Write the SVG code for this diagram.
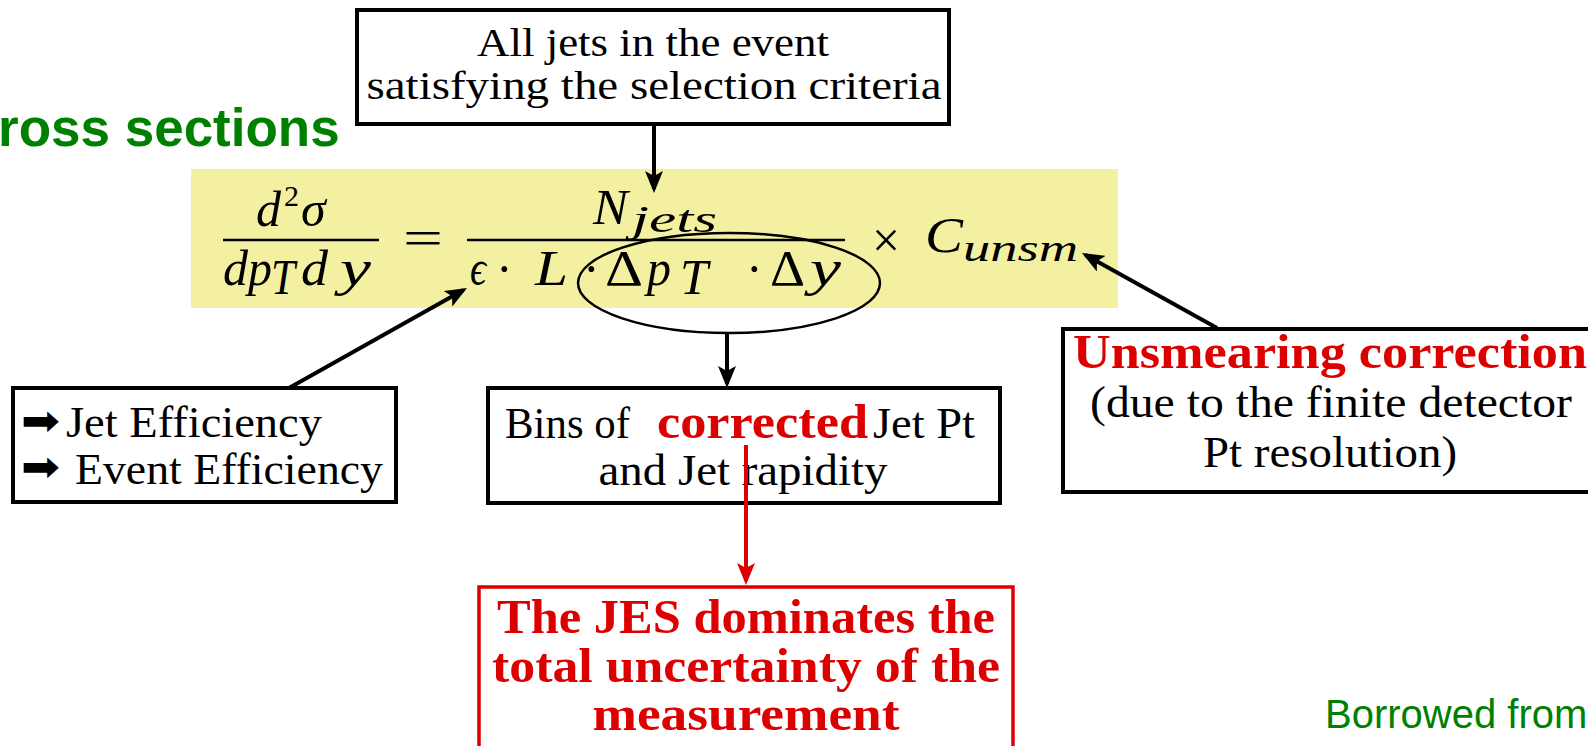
<svg xmlns="http://www.w3.org/2000/svg" width="1588" height="746" viewBox="0 0 1588 746">
<style>
.serif{font-family:"Liberation Serif","DejaVu Serif",serif;fill:#000}
.box{fill:#fff;stroke:#000;stroke-width:4}
.rbox{fill:#fff;stroke:#dd0000;stroke-width:3.5}
.red{fill:#dd0000;font-weight:bold}
.math{font-family:"Liberation Serif","DejaVu Serif",serif;font-style:italic;font-size:50px;fill:#000}
.up{font-style:normal}
.sub{font-size:38px}
.bar{stroke:#000;stroke-width:2.5}
.conn{stroke:#000;stroke-width:4;fill:none}
.rconn{stroke:#dd0000;stroke-width:4;fill:none}
.green{font-family:"Liberation Sans",Arial,sans-serif;fill:#008000}
</style>
<defs>
<marker id="ah" viewBox="0 0 22 18" refX="18" refY="9" markerWidth="22" markerHeight="18" markerUnits="userSpaceOnUse" orient="auto"><path d="M0,0 L22,9 L0,18 L5,9 z" fill="#000"/></marker>
<marker id="ahr" viewBox="0 0 22 18" refX="18" refY="9" markerWidth="22" markerHeight="18" markerUnits="userSpaceOnUse" orient="auto"><path d="M0,0 L22,9 L0,18 L5,9 z" fill="#dd0000"/></marker>
</defs>
<rect width="1588" height="746" fill="#fff"/>

<g id="title">
<text class="green" x="-2" y="146" font-size="53" font-weight="bold">ross sections</text>
</g>

<g id="equation">
<rect x="191" y="169" width="927" height="139" fill="#f3f1a1"/>
<text class="math" x="256" y="226">d<tspan class="up" x="284" y="206" font-size="30">2</tspan><tspan x="301" y="226">σ</tspan></text>
<line class="bar" x1="223" y1="240" x2="379" y2="240"/>
<text class="math" x="223" y="285" textLength="25" lengthAdjust="spacingAndGlyphs">d</text>
<text class="math" x="248" y="285" textLength="24" lengthAdjust="spacingAndGlyphs">p</text>
<text class="math" x="271" y="294" font-size="32" textLength="24" lengthAdjust="spacingAndGlyphs">T</text>
<text class="math" x="301" y="285" textLength="27" lengthAdjust="spacingAndGlyphs">d</text>
<text class="math" x="340" y="285" textLength="31" lengthAdjust="spacingAndGlyphs">y</text>
<text class="math up" x="403" y="255" textLength="40" lengthAdjust="spacingAndGlyphs">=</text>
<text class="math" x="593" y="224" textLength="35" lengthAdjust="spacingAndGlyphs">N</text>
<text class="math sub" x="632" y="232" textLength="85" lengthAdjust="spacingAndGlyphs">jets</text>
<line class="bar" x1="467" y1="240" x2="845" y2="240"/>
<text class="math" x="470" y="285" textLength="16" lengthAdjust="spacingAndGlyphs">ϵ</text>
<text class="math up" x="496" y="286">·</text>
<text class="math" x="535" y="285" textLength="33" lengthAdjust="spacingAndGlyphs">L</text>
<text class="math up" x="583" y="286">·</text>
<text class="math up" x="605" y="285" textLength="38" lengthAdjust="spacingAndGlyphs">Δ</text>
<text class="math" x="647" y="285" textLength="24" lengthAdjust="spacingAndGlyphs">p</text>
<text class="math" x="680" y="294" font-size="32" textLength="28" lengthAdjust="spacingAndGlyphs">T</text>
<text class="math up" x="746" y="286">·</text>
<text class="math up" x="770" y="285" textLength="35" lengthAdjust="spacingAndGlyphs">Δ</text>
<text class="math" x="810" y="285" textLength="31" lengthAdjust="spacingAndGlyphs">y</text>
<text class="math up" x="872" y="257" font-size="62" textLength="28" lengthAdjust="spacingAndGlyphs">×</text>
<text class="math" x="925" y="252" textLength="38" lengthAdjust="spacingAndGlyphs">C</text>
<text class="math sub" x="963" y="261" textLength="115" lengthAdjust="spacingAndGlyphs">unsm</text>
<ellipse cx="729" cy="283" rx="151" ry="50" fill="none" stroke="#000" stroke-width="2.5"/>
</g>

<g id="node-selection">
<rect class="box" x="357" y="10" width="592" height="114" stroke-width="3.5"/>
<text class="serif" x="653" y="56" font-size="41" text-anchor="middle" textLength="352" lengthAdjust="spacingAndGlyphs">All jets in the event</text>
<text class="serif" x="654" y="99" font-size="41" text-anchor="middle" textLength="575" lengthAdjust="spacingAndGlyphs">satisfying the selection criteria</text>
</g>

<g id="node-efficiency">
<rect class="box" x="13" y="388" width="383" height="114"/>
<text x="21" y="435" font-family="DejaVu Sans,sans-serif" font-size="42" textLength="39" lengthAdjust="spacingAndGlyphs">➡</text>
<text class="serif" x="66" y="437" font-size="44" textLength="256" lengthAdjust="spacingAndGlyphs">Jet Efficiency</text>
<text x="21" y="481" font-family="DejaVu Sans,sans-serif" font-size="42" textLength="39" lengthAdjust="spacingAndGlyphs">➡</text>
<text class="serif" x="75" y="484" font-size="44" textLength="308" lengthAdjust="spacingAndGlyphs">Event Efficiency</text>
</g>

<g id="node-bins">
<rect class="box" x="488" y="388" width="512" height="115"/>
<text class="serif" x="505" y="438" font-size="44" textLength="125" lengthAdjust="spacingAndGlyphs">Bins of</text>
<text class="serif red" x="657" y="438" font-size="48" textLength="211" lengthAdjust="spacingAndGlyphs">corrected</text>
<text class="serif" x="873" y="438" font-size="44" textLength="102" lengthAdjust="spacingAndGlyphs">Jet Pt</text>
<text class="serif" x="743" y="485" font-size="44" text-anchor="middle" textLength="289" lengthAdjust="spacingAndGlyphs">and Jet rapidity</text>
</g>

<g id="node-unsmearing">
<rect class="box" x="1063" y="329" width="540" height="163"/>
<text class="serif red" x="1073" y="368" font-size="48" textLength="514" lengthAdjust="spacingAndGlyphs">Unsmearing correction</text>
<text class="serif" x="1331" y="417" font-size="44" text-anchor="middle" textLength="482" lengthAdjust="spacingAndGlyphs">(due to the finite detector</text>
<text class="serif" x="1330" y="467" font-size="44" text-anchor="middle" textLength="254" lengthAdjust="spacingAndGlyphs">Pt resolution)</text>
</g>

<g id="node-jes">
<rect class="rbox" x="479" y="587" width="534" height="175"/>
<text class="serif red" x="746" y="633" font-size="48" text-anchor="middle" textLength="498" lengthAdjust="spacingAndGlyphs">The JES dominates the</text>
<text class="serif red" x="746" y="682" font-size="48" text-anchor="middle" textLength="508" lengthAdjust="spacingAndGlyphs">total uncertainty of the</text>
<text class="serif red" x="746" y="730" font-size="48" text-anchor="middle" textLength="307" lengthAdjust="spacingAndGlyphs">measurement</text>
</g>

<g id="credit">
<text class="green" x="1325" y="728" font-size="40">Borrowed from</text>
</g>

<g id="connectors">
<line class="conn" x1="654" y1="124" x2="654" y2="189" marker-end="url(#ah)"/>
<line class="conn" x1="289" y1="388" x2="463.5" y2="290" marker-end="url(#ah)"/>
<line class="conn" x1="727" y1="333" x2="727" y2="384" marker-end="url(#ah)"/>
<line class="conn" x1="1217" y1="328" x2="1085.5" y2="255" marker-end="url(#ah)"/>
<line class="rconn" x1="746" y1="445" x2="746" y2="581" marker-end="url(#ahr)"/>
</g>
</svg>
